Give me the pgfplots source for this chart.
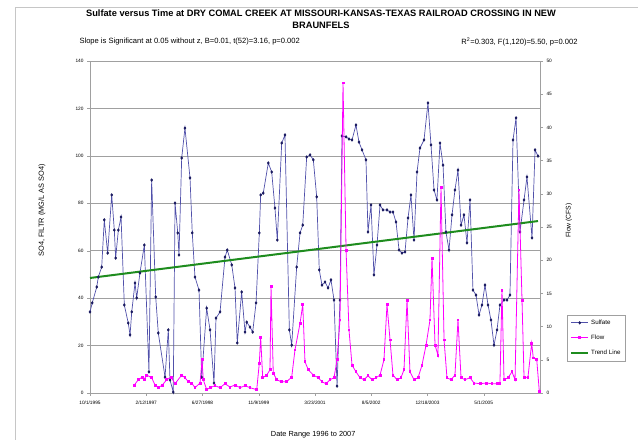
\documentclass[border=0pt]{standalone}
\usepackage{pgfplots}
\pgfplotsset{compat=1.18}
\usepackage{fontspec}
\setmainfont{Liberation Sans}
\definecolor{sulf}{RGB}{80,80,170}
\definecolor{sulfm}{RGB}{25,25,95}
\definecolor{flowc}{RGB}{255,0,255}
\definecolor{trendc}{RGB}{30,140,30}
\definecolor{gridc}{RGB}{160,160,160}

\pgfplotstableread{
day val
0 34.2
20 38.0
60 44.7
74 48.9
104 53.1
127 73.0
157 59.0
193 83.5
216 68.7
228 56.9
252 68.7
276 74.2
305 37.1
340 29.5
356 24.5
371 34.2
400 46.4
415 40.1
444 50.6
483 62.4
524 8.9
548 89.8
584 40.5
607 25.3
667 6.7
696 26.6
711 5.5
740 0.4
756 80.1
780 67.5
791 58.2
815 99.1
844 111.7
889 90.7
909 67.5
933 48.9
969 43.4
993 6.7
1037 35.8
1067 26.6
1102 4.2
1120 31.6
1156 34.2
1200 57.3
1220 60.3
1260 54.0
1289 44.3
1309 21.1
1348 42.6
1378 25.7
1393 29.9
1422 27.8
1446 25.7
1476 38.0
1505 67.5
1517 83.5
1540 84.3
1585 97.0
1615 93.2
1644 78.0
1665 64.5
1704 105.4
1733 108.8
1772 26.6
1793 20.2
1837 53.1
1867 67.5
1891 70.8
1926 99.5
1956 100.4
1985 98.3
2015 82.7
2038 51.9
2062 45.5
2089 46.8
2116 44.3
2142 47.7
2169 39.2
2196 2.9
2222 39.2
2240 108.4
2276 108.0
2302 107.1
2329 106.7
2364 113.0
2391 105.8
2418 102.5
2453 98.3
2471 67.9
2498 79.3
2524 49.8
2551 62.4
2578 79.3
2604 77.2
2640 77.2
2667 76.3
2693 76.3
2720 72.1
2747 60.3
2773 59.0
2800 59.5
2827 73.8
2853 83.5
2880 64.5
2907 93.2
2933 103.3
2969 106.7
3004 122.3
3031 104.6
3058 85.6
3084 81.4
3111 105.4
3138 96.1
3164 67.9
3191 60.3
3218 75.1
3244 85.6
3271 94.0
3298 70.8
3324 75.1
3351 63.3
3378 81.4
3404 43.4
3431 41.3
3458 32.9
3484 37.1
3511 45.5
3538 37.1
3564 30.8
3591 20.2
3618 26.6
3644 37.1
3680 39.2
3707 39.2
3733 41.3
3760 106.7
3787 116.0
3822 67.9
3858 81.4
3884 91.1
3929 65.4
3956 102.5
3982 99.9
}\sulfate

\pgfplotstableread{
day flow
394 1.2
429 2.0
465 2.4
483 2.1
504 2.7
548 2.3
578 1.2
607 0.8
643 1.2
682 2.0
720 2.4
756 1.4
815 2.7
844 2.3
874 1.7
904 1.5
933 0.8
978 1.5
996 5.0
1007 2.0
1037 0.5
1067 0.8
1111 1.1
1156 0.8
1200 1.4
1244 0.9
1289 1.2
1333 0.8
1378 1.1
1422 0.8
1482 0.5
1505 4.5
1517 8.4
1535 2.3
1571 2.7
1600 3.5
1609 16.0
1629 3.0
1660 2.0
1698 1.7
1748 1.7
1793 2.4
1822 6.5
1867 10.5
1891 13.3
1911 4.7
1940 3.5
1985 2.7
2029 2.3
2062 1.7
2098 1.4
2133 2.0
2169 2.3
2196 5.0
2222 11.0
2249 46.7
2276 21.5
2302 9.5
2329 4.2
2364 3.2
2400 2.3
2436 2.0
2471 2.6
2507 2.0
2542 2.3
2578 2.7
2613 5.0
2640 13.3
2667 8.0
2693 2.7
2729 2.0
2764 2.3
2791 3.5
2818 14.0
2844 3.2
2880 2.0
2916 2.3
2951 4.2
2987 7.2
3022 11.0
3040 20.3
3067 7.2
3093 5.7
3120 31.0
3147 8.0
3173 2.3
3209 2.0
3244 2.7
3271 11.0
3298 2.3
3333 2.0
3378 2.3
3413 1.5
3467 1.4
3520 1.5
3573 1.4
3618 1.4
3644 1.5
3662 15.5
3680 2.0
3716 2.3
3751 3.2
3778 2.0
3813 30.6
3840 14.0
3858 2.3
3893 2.4
3926 7.5
3940 5.3
3971 5.0
3994 0.2
}\flow

\begin{document}
\begin{tikzpicture}[x=1bp,y=1bp]
\useasboundingbox (0,0) rectangle (638,440);
\draw[gray!45, line width=0.8bp] (15,-10) rectangle (660,433);
\node[font=\fontsize{9.3}{12}\selectfont\bfseries, align=center] at (321,421)
  {Sulfate versus Time at DRY COMAL CREEK AT MISSOURI-KANSAS-TEXAS RAILROAD CROSSING IN NEW\\BRAUNFELS};
\node[font=\fontsize{7.6}{8}\selectfont, anchor=west] at (76,398)
  {Slope is Significant at 0.05 without z, B=0.01, t(52)=3.16, p=0.002};
\node[font=\fontsize{7.6}{8}\selectfont, anchor=east] at (581,398)
  {R\textsuperscript{2}=0.303, F(1,120)=5.50, p=0.002};

\begin{axis}[
  at={(90bp,47bp)}, anchor=south west,
  scale only axis, width=450bp, height=332bp,
  xmin=0, xmax=4000, ymin=0, ymax=140,
  axis y line*=left, axis x line*=bottom,
  axis line style={gridc},
  xtick={0,500,1000,1500,2000,2500,3000,3500},
  xticklabels={10/1/1995,2/12/1997,6/27/1998,11/9/1999,3/23/2001,8/5/2002,12/18/2003,5/1/2005},
  ytick={0,20,...,140},
  ymajorgrids, major grid style={gridc, line width=0.5bp},
  tick align=outside, major tick length=3bp, tick style={gridc},
  ticklabel style={font=\fontsize{4.8}{5}\selectfont, text=black},
  /pgf/number format/assume math mode=true,
  xticklabel style={yshift=-2bp},
  label style={font=\fontsize{7.4}{8}\selectfont},
  ylabel={SO4, FILTR (MG/L AS SO4)},
  ylabel style={at={(axis description cs:-0.107,0.55)}, anchor=center},
  xlabel={Date Range 1996 to 2007},
  xlabel style={at={(axis description cs:0.496,-0.127)}, anchor=center},
  legend style={at={(axis description cs:1.06,0.236)}, anchor=north west,
    font=\fontsize{6.2}{7}\selectfont, draw=gridc, inner sep=3bp,
    row sep=5bp, cells={anchor=west}},
  legend cell align=left,
  clip=false,
]
\addplot[sulf, line width=0.7bp, mark=diamond*, mark size=1.2bp,
  mark options={sulfm, fill=sulfm}] table[x=day,y=val]{\sulfate};
\addlegendentry{Sulfate}
\addlegendimage{flowc, line width=0.8bp, mark=square*, mark size=0.9bp}
\addlegendentry{Flow}
\addplot[trendc, line width=2bp] coordinates {(0,48.5) (3982,72.5)};
\addlegendentry{Trend Line}
\end{axis}

\begin{axis}[
  at={(90bp,47bp)}, anchor=south west,
  scale only axis, width=450bp, height=332bp,
  xmin=0, xmax=4000, ymin=0, ymax=50,
  axis y line*=right, axis x line=none,
  axis line style={gridc},
  ytick={0,5,...,50},
  tick align=outside, major tick length=3bp, tick style={gridc},
  ticklabel style={font=\fontsize{4.8}{5}\selectfont, text=black},
  /pgf/number format/assume math mode=true,
  label style={font=\fontsize{6.8}{7}\selectfont},
  ylabel={Flow (CFS)},
  ylabel style={at={(axis description cs:1.064,0.52)}, anchor=center},
  clip=false,
]
\addplot[flowc, line width=0.8bp, mark=square*, mark size=0.9bp,
  mark options={flowc}] table[x=day,y=flow]{\flow};
\end{axis}
\end{tikzpicture}
\end{document}
